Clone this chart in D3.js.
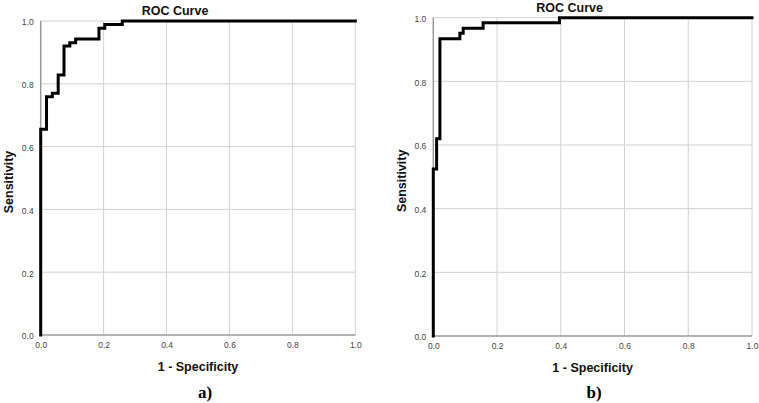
<!DOCTYPE html>
<html>
<head>
<meta charset="utf-8">
<script src="https://cdn.jsdelivr.net/npm/d3@7"></script>
<style>
  body { margin: 0; background: #fff; }
  svg { display: block; }
  .tick text { fill: #444; font-family: "Liberation Sans", Arial, sans-serif; font-size: 8.5px; }
</style>
</head>
<body>
<svg id="chart" width="759" height="403"></svg>
<script>
// ROC curves (corner points, step after)
const fprA = [0, 0, 0.0185, 0.037, 0.0556, 0.0741, 0.0926, 0.1111, 0.1852, 0.2037, 0.2593, 1];
const tprA = [0, 0.655, 0.759, 0.770, 0.828, 0.920, 0.931, 0.943, 0.977, 0.989, 1, 1];
const fprB = [0, 0, 0.0104, 0.0208, 0.0833, 0.0938, 0.1563, 0.3958, 1];
const tprB = [0, 0.525, 0.62, 0.934, 0.951, 0.967, 0.984, 1, 1];
const tickValues = [0, 0.2, 0.4, 0.6, 0.8, 1.0];
const panelLabels = ["a)", "b)"];
const chartTitle = "ROC Curve";
const xTitle = "1 - Specificity";
const yTitle = "Sensitivity";

const svg = d3.select("#chart");
const font = "'Liberation Sans', Arial, sans-serif";

function drawRoc(g, box, fpr, tpr, label) {
	let x = d3.scaleLinear().domain([0, 1]).range([box.x0, box.x1]);
	let y = d3.scaleLinear().domain([0, 1]).range([box.y0, box.y1]);

	// grid
	g.append("g").selectAll("line.gx").data(tickValues.slice(1)).join("line")
		.attr("x1", d => x(d)).attr("x2", d => x(d))
		.attr("y1", y(0)).attr("y2", y(1))
		.attr("stroke", "#d2d2d2").attr("stroke-width", 1);
	g.append("g").selectAll("line.gy").data(tickValues.slice(1)).join("line")
		.attr("x1", x(0)).attr("x2", x(1))
		.attr("y1", d => y(d)).attr("y2", d => y(d))
		.attr("stroke", "#d2d2d2").attr("stroke-width", 1);

	// axis lines
	g.append("line").attr("x1", x(0)).attr("x2", x(1)).attr("y1", y(0)).attr("y2", y(0))
		.attr("stroke", "#9a9a9a").attr("stroke-width", 1.5);
	g.append("line").attr("x1", x(0)).attr("x2", x(0)).attr("y1", y(0)).attr("y2", y(1))
		.attr("stroke", "#9a9a9a").attr("stroke-width", 1.5);

	// tick labels
	let xa = g.append("g").attr("transform", "translate(0," + (y(0) + 4) + ")")
		.call(d3.axisBottom(x).tickValues(tickValues).tickFormat(d3.format(".1f")).tickSize(0));
	xa.select(".domain").remove();
	let ya = g.append("g").attr("transform", "translate(" + (x(0) - 4) + ",0)")
		.call(d3.axisLeft(y).tickValues(tickValues).tickFormat(d3.format(".1f")).tickSize(0));
	ya.select(".domain").remove();
	ya.selectAll("text").attr("dy", "0.45em");

	// curve
	let line = d3.line().x((d, i) => x(fpr[i])).y((d, i) => y(tpr[i])).curve(d3.curveStepAfter);
	g.append("path").attr("d", line(fpr))
		.attr("fill", "none").attr("stroke", "#000").attr("stroke-width", 3)
		.attr("stroke-linejoin", "miter").attr("stroke-linecap", "square");

	// texts
	let cx = (box.x0 + box.x1) / 2;
	g.append("text").text(chartTitle)
		.attr("x", cx - 23).attr("y", box.y1 - 6)
		.attr("text-anchor", "middle").attr("font-family", font)
		.attr("font-weight", "bold").attr("font-size", 12.5).attr("fill", "#111");
	g.append("text").text(xTitle)
		.attr("x", cx).attr("y", box.y0 + 36)
		.attr("text-anchor", "middle").attr("font-family", font)
		.attr("font-weight", "bold").attr("font-size", 12.5).attr("fill", "#111");
	g.append("text").text(yTitle)
		.attr("transform", "translate(" + box.yt + "," + ((box.y0 + box.y1) / 2 + 4) + ") rotate(-90)")
		.attr("text-anchor", "middle").attr("font-family", font)
		.attr("font-weight", "bold").attr("font-size", 12.5).attr("fill", "#111");
	g.append("text").text(label)
		.attr("x", box.lx).attr("y", 398)
		.attr("text-anchor", "middle").attr("font-family", "'Liberation Serif', 'Times New Roman', serif")
		.attr("font-weight", "bold").attr("font-size", 17).attr("fill", "#000");
}

drawRoc(svg.append("g"), {x0: 40.7, x1: 355.3, y0: 335, y1: 21, yt: 12.5, lx: 205}, fprA, tprA, panelLabels[0]);
drawRoc(svg.append("g"), {x0: 433.3, x1: 752, y0: 336, y1: 17.7, yt: 405.5, lx: 594}, fprB, tprB, panelLabels[1]);
</script>
</body>
</html>
